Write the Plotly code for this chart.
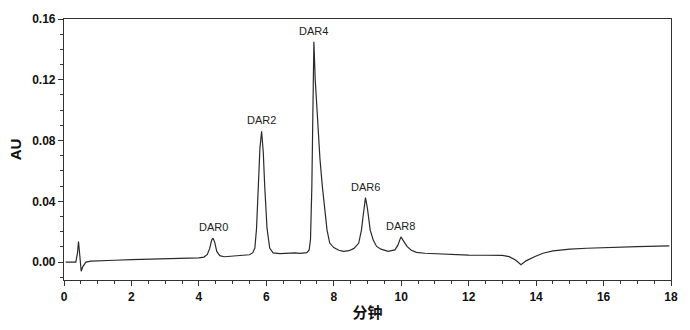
import plotly.graph_objects as go

# Retention time (min) and absorbance (AU)
time_min = [0.05, 0.35, 0.40, 0.43, 0.47, 0.51, 0.56, 0.65, 0.8, 1.0, 1.5, 2.0, 2.5, 3.0, 3.5,
            4.0, 4.15, 4.25, 4.32, 4.38, 4.42, 4.47, 4.53, 4.62, 4.75, 5.0, 5.3, 5.5, 5.6,
            5.66, 5.71, 5.76, 5.81, 5.86, 5.91, 5.95, 6.02, 6.1, 6.2, 6.4, 6.6, 6.75, 6.85,
            7.0, 7.2, 7.27, 7.31, 7.35, 7.38, 7.41, 7.45, 7.52, 7.59, 7.66, 7.73, 7.80, 7.88,
            8.0, 8.15, 8.29, 8.45, 8.6, 8.74, 8.82, 8.88, 8.94, 9.0, 9.08, 9.17, 9.27, 9.4,
            9.61, 9.81, 9.9, 9.99, 10.08, 10.17, 10.3, 10.45, 10.7, 10.95, 11.5, 12.0, 12.5,
            13.0, 13.2, 13.4, 13.55, 13.7, 13.97, 14.2, 14.5, 15.0, 15.5, 16.0, 17.0, 17.95]
absorbance = [0.0, 0.0, 0.006, 0.0135, 0.004, -0.006, -0.003, 0.0, 0.0006, 0.0009, 0.0012,
              0.0016, 0.0019, 0.0021, 0.0024, 0.0028, 0.0033, 0.005, 0.009, 0.0145, 0.0157,
              0.013, 0.007, 0.0042, 0.0035, 0.0038, 0.0044, 0.0048, 0.0062, 0.0092, 0.0223,
              0.0507, 0.075, 0.0861, 0.072, 0.0507, 0.0223, 0.0092, 0.006, 0.0055, 0.0057,
              0.0063, 0.006, 0.0057, 0.0062, 0.008, 0.015, 0.05, 0.09, 0.145, 0.12, 0.09,
              0.068, 0.05, 0.033, 0.021, 0.0125, 0.0095, 0.0078, 0.007, 0.0075, 0.009, 0.0125,
              0.021, 0.032, 0.0424, 0.035, 0.021, 0.0145, 0.0103, 0.0085, 0.007, 0.008, 0.011,
              0.0166, 0.0135, 0.0103, 0.0078, 0.0064, 0.0058, 0.0055, 0.005, 0.0046, 0.0045,
              0.0044, 0.0036, 0.0012, -0.0018, 0.0008, 0.0037, 0.0058, 0.0074, 0.0085, 0.0091,
              0.0096, 0.0102, 0.0107]

peak_labels = ["DAR0", "DAR2", "DAR4", "DAR6", "DAR8"]
peak_times = [4.42, 5.86, 7.41, 8.94, 9.99]
peak_heights = [0.0157, 0.0861, 0.145, 0.0424, 0.0166]

fig = go.Figure()
fig.add_trace(go.Scatter(x=time_min, y=absorbance, mode="lines",
                         line=dict(color="#2a2a2a", width=1.2), showlegend=False))

for lab, t, h in zip(peak_labels, peak_times, peak_heights):
    fig.add_annotation(x=t, y=h, text=lab, showarrow=False, yanchor="bottom", yshift=3,
                       font=dict(family="Arial, Liberation Sans, sans-serif", size=11, color="#222"))

tickfont = dict(family="Arial, Liberation Sans, sans-serif", size=12, color="#111", weight="bold")

fig.update_layout(
    width=690, height=330,
    margin=dict(l=64, r=17, t=19, b=49),
    paper_bgcolor="white", plot_bgcolor="white",
    xaxis=dict(range=[0, 18], tick0=0, dtick=2, showgrid=False, zeroline=False,
               showline=True, mirror=True, linecolor="#333", linewidth=1.2,
               ticks="outside", ticklen=5, tickcolor="#333", tickwidth=1,
               minor=dict(dtick=0.5, ticks="outside", ticklen=3, tickcolor="#333"),
               tickfont=tickfont,
               title=dict(text="分钟", standoff=4,
                          font=dict(family="Noto Sans CJK SC", size=15, color="#111", weight="bold"))),
    yaxis=dict(range=[-0.0118, 0.16], tick0=0, dtick=0.04, tickformat=".2f",
               showgrid=False, zeroline=False,
               showline=True, mirror=True, linecolor="#333", linewidth=1.2,
               ticks="outside", ticklen=5, tickcolor="#333", tickwidth=1,
               minor=dict(dtick=0.01, ticks="outside", ticklen=3, tickcolor="#333"),
               tickfont=tickfont,
               title=dict(text="AU", standoff=6,
                          font=dict(family="Arial, Liberation Sans, sans-serif", size=15, color="#111", weight="bold"))),
)

fig.write_html("out.html")
